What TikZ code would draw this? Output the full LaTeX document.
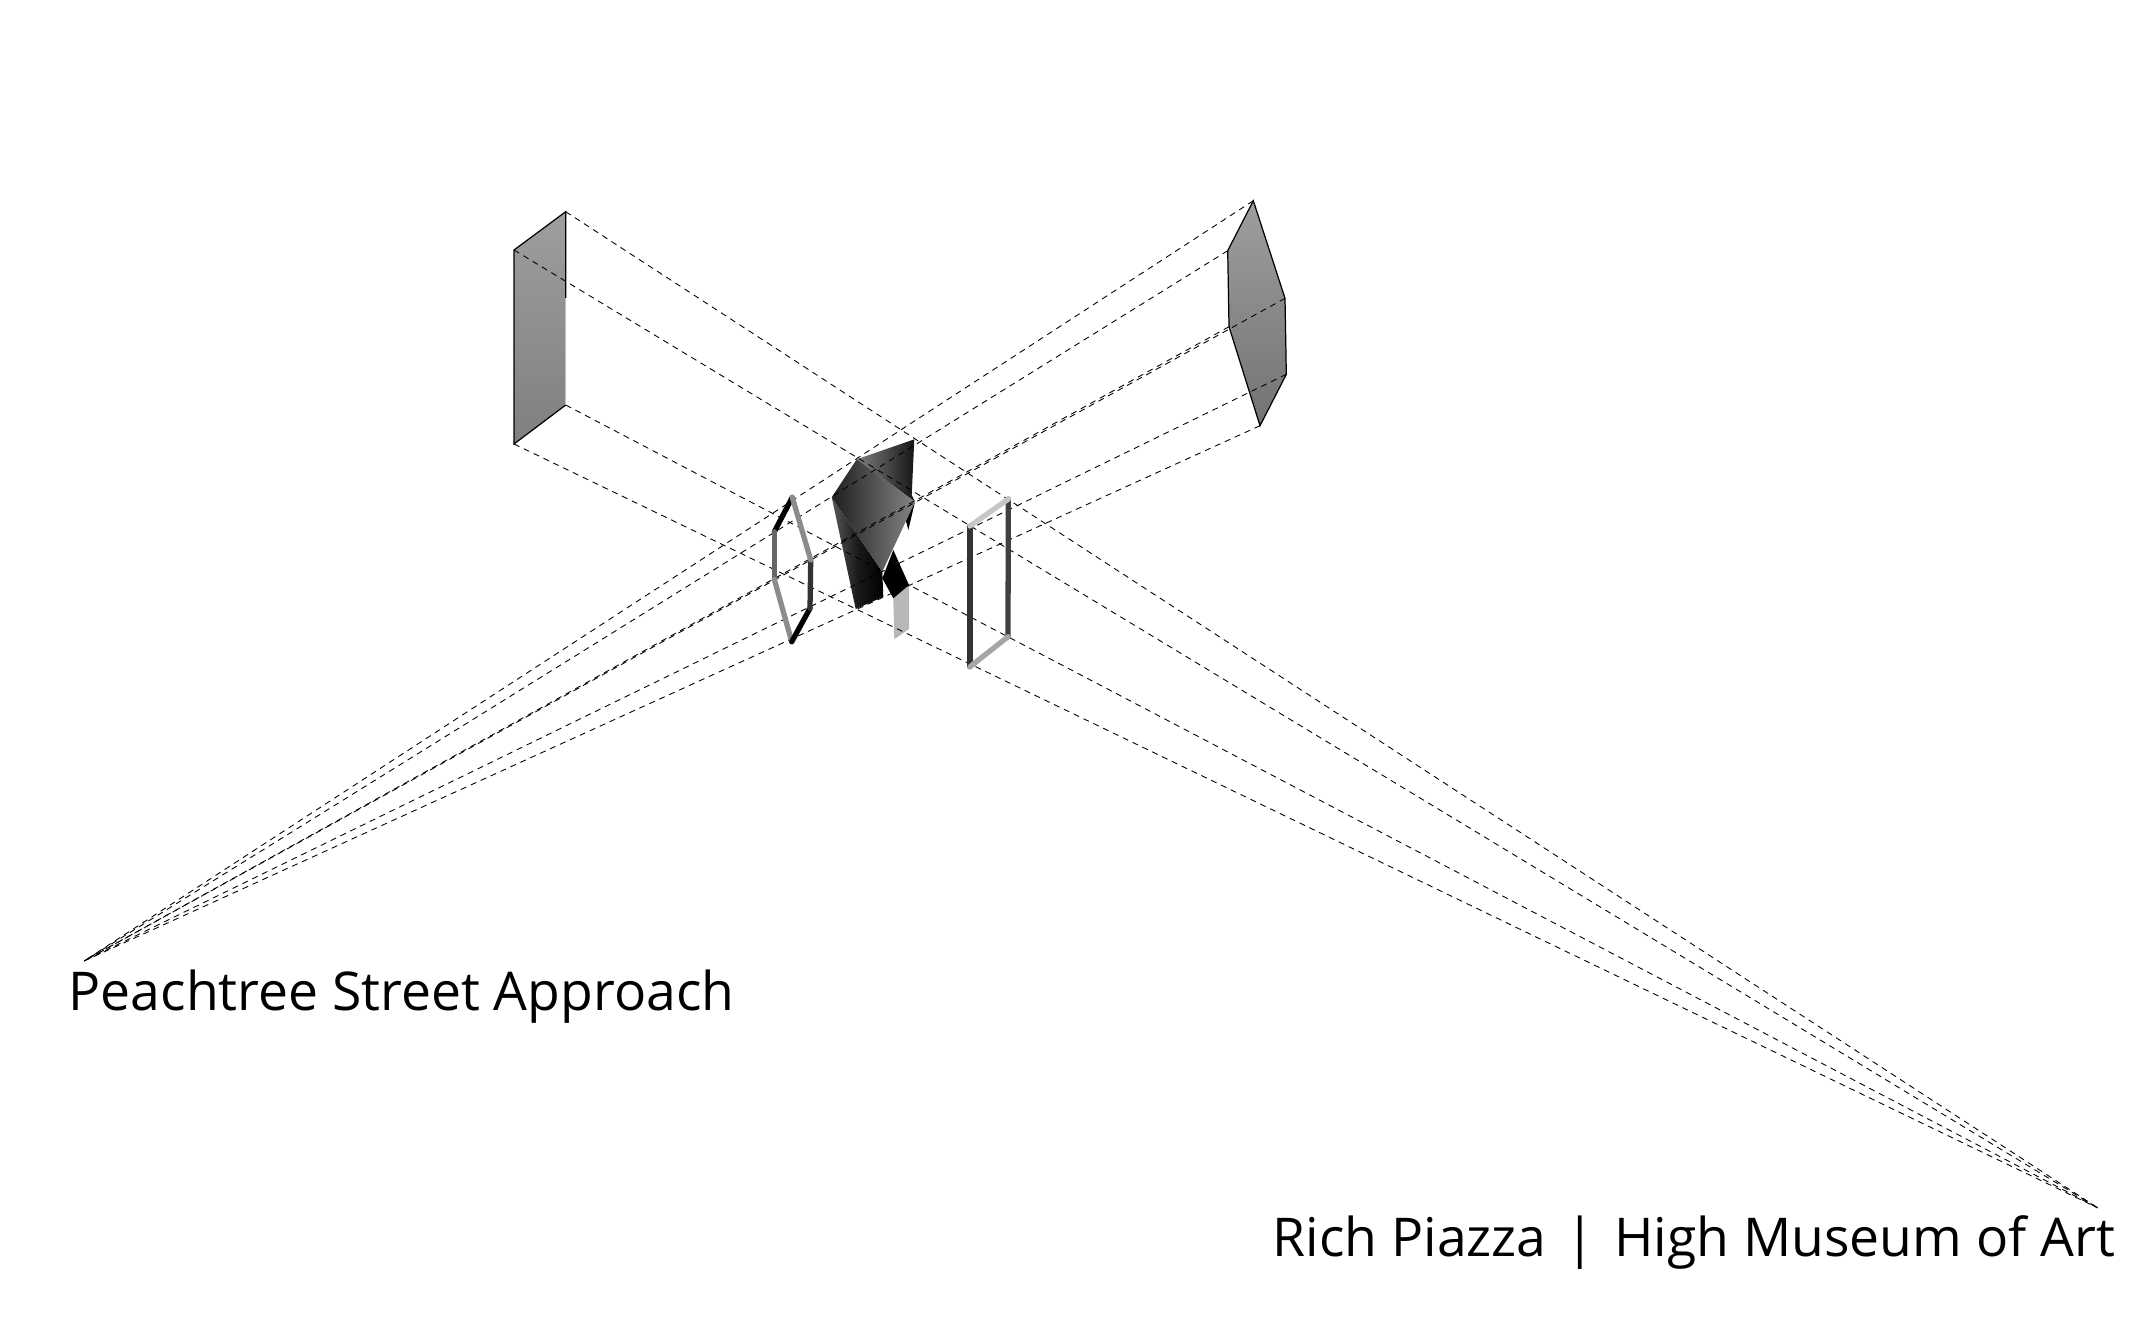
\documentclass[tikz,border=0pt]{standalone}
\usepackage{fontspec}
\setmainfont{Open Sans}
\tikzset{
  sightline/.style={black, line width=0.25pt, dash pattern=on 1.7pt off 1.4pt},
  outline/.style={black, line width=0.35pt},
  framebar/.style={line width=1.5pt, line cap=round, line join=round},
  caption/.style={inner sep=0pt, anchor=base west, font=\fontsize{15.2pt}{18pt}\selectfont}
}
\begin{document}
\begin{tikzpicture}[x=0.01cm, y=-0.01cm]
    \useasboundingbox (0,0) rectangle (2149,1320);
    % vanishing points
    \coordinate (vl) at (84,961);
    \coordinate (vr) at (2098,1208);
    % left panel
    \coordinate (pa) at (565.7,211.7);
    \coordinate (pb) at (514,250);
    \coordinate (pc) at (514,444);
    \coordinate (pd) at (565.7,405);
    \coordinate (pe) at (565.7,298);
    % right panel
    \coordinate (ha) at (1253.3,200.7);
    \coordinate (hb) at (1227.7,250.7);
    \coordinate (hc) at (1229,326.7);
    \coordinate (hd) at (1260,425.7);
    \coordinate (he) at (1286.3,374.3);
    \coordinate (hf) at (1285,298.3);
    % left frame
    \coordinate (fa) at (792.3,497.3);
    \coordinate (fb) at (774.3,531.7);
    \coordinate (fc) at (774.3,579.3);
    \coordinate (fd) at (791.7,641.7);
    \coordinate (fe) at (810,608.3);
    \coordinate (ff) at (810.7,560);
    % right frame
    \coordinate (ga) at (970,526);
    \coordinate (gb) at (1008.3,499);
    \coordinate (gc) at (1008,636.7);
    \coordinate (gd) at (970,666.7);
    % sculpture
    \coordinate (sa) at (856.7,459.3);
    \coordinate (sb) at (914.3,439.3);
    \coordinate (sc) at (911.7,495);
    \coordinate (sd) at (915,501.7);
    \coordinate (se) at (831.7,497.3);
    \coordinate (sf) at (882.3,571.7);
    \coordinate (sg) at (855.7,609);
    \coordinate (sh) at (883.3,596.7);
    \coordinate (si) at (893.3,550);
    \coordinate (sj) at (909,585);
    \coordinate (sk) at (893.3,598.3);
    \coordinate (sl) at (882.3,578.3);
    \coordinate (sm) at (909,629);
    \coordinate (sn) at (894.3,639.3);
    \coordinate (so) at (908.3,530);
    \coordinate (sp) at (905.7,520);

    \shade[top color=black!38, bottom color=black!50] (pa)--(pb)--(pc)--(pd)--cycle;
    \draw[outline] (pe)--(pa)--(pb)--(pc)--(pd);
    \draw[black!25, line width=0.35pt] (pe)--(pd);

    \shade[top color=black!38, bottom color=black!55] (ha)--(hb)--(hc)--(hd)--(he)--(hf)--cycle;
    \draw[outline] (ha)--(hb)--(hc)--(hd)--(he)--(hf)--cycle;

    \fill[black!28] (sk)--(sj)--(sm)--(sn)--cycle;
    \fill[black] (si)--(sj)--(sk)--(sl)--cycle;
    \shade[left color=black!50, right color=black!92] (sa)--(sb)--(sc)--(sd)--cycle;
    \fill[black] (sd)--(so)--(sp)--cycle;
    \shade[left color=black!65, right color=black, middle color=black!90] (se)--(sg)--(sh)--(sf)--cycle;
    \shade[shading angle=135, left color=black!88, right color=black!48] (sa)--(se)--(sf)--(sd)--cycle;

    \foreach \p in {pa,pb,pc,pd}
        \draw[sightline] (\p)--(vr);
    \foreach \p in {ha,hb,hc,hd,he,hf}
        \draw[sightline] (\p)--(vl);

    \draw[framebar, black] (fa)--(fb);
    \draw[framebar, black!60] (fb)--(fc);
    \draw[framebar, black!45] (fc)--(fd);
    \draw[framebar, black] (fd)--(fe);
    \draw[framebar, black!80] (fe)--(ff);
    \draw[framebar, black!45] (ff)--(fa);

    \draw[framebar, black!75] (gb)--(gc);
    \draw[framebar, black!80] (ga)--(gd);
    \draw[framebar, black!22] (ga)--(gb);
    \draw[framebar, black!35] (gd)--(gc);

    \node[caption] (approach) at (68,1010) {Peachtree Street Approach};
    \node[caption] (credit) at (1272,1256) {Rich Piazza \hspace{1.5pt}|\hspace{1.5pt} High Museum of Art};
\end{tikzpicture}
\end{document}
